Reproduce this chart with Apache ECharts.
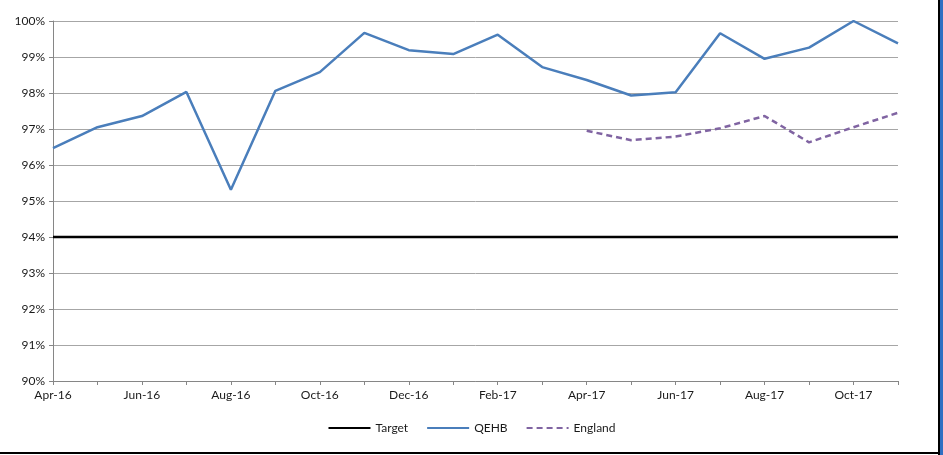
<!DOCTYPE html>
<html>
<head>
<meta charset="utf-8">
<script src="https://cdn.jsdelivr.net/npm/echarts@6/dist/echarts.min.js"></script>
<style>
  html, body { margin: 0; padding: 0; background: #fff; }
  #chart { width: 943px; height: 455px; }
</style>
</head>
<body>
<div id="chart"></div>
<script>
const months = ['Apr-16', 'May-16', 'Jun-16', 'Jul-16', 'Aug-16', 'Sep-16', 'Oct-16', 'Nov-16', 'Dec-16', 'Jan-17',
  'Feb-17', 'Mar-17', 'Apr-17', 'May-17', 'Jun-17', 'Jul-17', 'Aug-17', 'Sep-17', 'Oct-17', 'Nov-17']
const qehb = [96.47, 97.05, 97.36, 98.03, 95.31, 98.06, 98.58, 99.67, 99.19, 99.08,
  99.62, 98.72, 98.36, 97.93, 98.02, 99.66, 98.95, 99.26, 100.0, 99.38]
const england = [null, null, null, null, null, null, null, null, null, null,
  null, null, 96.95, 96.69, 96.79, 97.02, 97.36, 96.63, 97.05, 97.45]
const targetValue = 94
const target = months.map(() => targetValue)

const fontFamily = 'Lato, "Open Sans", sans-serif'
const textColor = '#1a1a1a'

const chart = echarts.init(document.getElementById('chart'))
chart.setOption({
  animation: false,
  textStyle: { fontFamily: fontFamily },
  grid: { left: 53, right: 45, top: 21, bottom: 74 },
  legend: {
    bottom: 16,
    left: 'center',
    itemWidth: 42,
    itemHeight: 10,
    itemGap: 18,
    itemStyle: { opacity: 0 },
    textStyle: { color: textColor, fontSize: 12, fontFamily: fontFamily },
    data: ['Target', 'QEHB', 'England']
  },
  xAxis: {
    type: 'category',
    boundaryGap: false,
    data: months,
    axisLine: { lineStyle: { color: '#868686', width: 1 } },
    axisTick: { show: true, interval: 0, length: 4, lineStyle: { color: '#868686' } },
    axisLabel: { interval: 1, color: textColor, fontSize: 12, margin: 8, fontFamily: fontFamily },
    splitLine: { show: false }
  },
  yAxis: {
    type: 'value',
    min: 90,
    max: 100,
    interval: 1,
    axisLine: { show: true, lineStyle: { color: '#868686', width: 1 } },
    axisTick: { show: true, length: 4, lineStyle: { color: '#868686' } },
    axisLabel: { formatter: '{value}%', color: textColor, fontSize: 12, margin: 8, fontFamily: fontFamily },
    splitLine: { show: true, lineStyle: { color: '#a6a6a6', width: 1 } }
  },
  series: [
    {
      name: 'Target',
      type: 'line',
      symbol: 'none',
      data: target,
      lineStyle: { color: '#000000', width: 2.5 },
      itemStyle: { color: '#000000' }
    },
    {
      name: 'QEHB',
      type: 'line',
      symbol: 'none',
      data: qehb,
      lineStyle: { color: '#4a7ebb', width: 2.5 },
      itemStyle: { color: '#4a7ebb' }
    },
    {
      name: 'England',
      type: 'line',
      symbol: 'none',
      data: england,
      lineStyle: { color: '#8064a2', width: 2.5, type: [6, 4] },
      itemStyle: { color: '#8064a2' }
    }
  ],
  graphic: [
    { type: 'rect', left: 0, top: 452, shape: { width: 940, height: 2 }, style: { fill: '#000' } },
    { type: 'rect', left: 938, top: 0, shape: { width: 2, height: 455 }, style: { fill: '#000' } },
    { type: 'rect', left: 940, top: 0, shape: { width: 3, height: 455 }, style: { fill: '#2e6fc2' } }
  ]
})
</script>
</body>
</html>
